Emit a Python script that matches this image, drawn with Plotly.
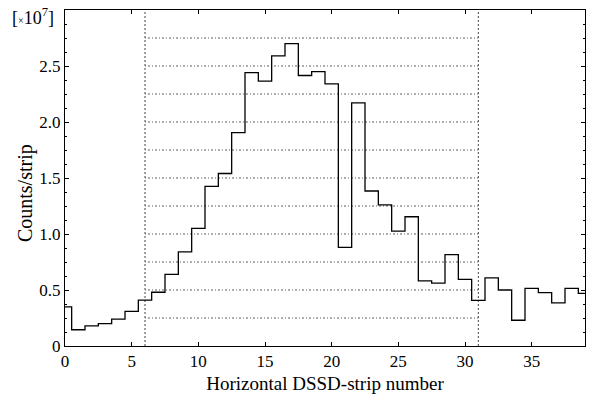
import plotly.graph_objects as go

strips = list(range(40))
counts = [0.35, 0.145, 0.18, 0.20, 0.24, 0.31, 0.41, 0.48, 0.64, 0.84,
          1.05, 1.425, 1.54, 1.905, 2.44, 2.365, 2.59, 2.70, 2.415, 2.45,
          2.34, 0.88, 2.17, 1.384, 1.26, 1.025, 1.154, 0.582, 0.562, 0.816,
          0.594, 0.407, 0.608, 0.50, 0.23, 0.515, 0.477, 0.385, 0.515, 0.47]
guide_levels = [0.25, 0.5, 0.75, 1.0, 1.25, 1.5, 1.75, 2.0, 2.25, 2.5, 2.75]
region_edges = [6, 31]
x_ticks = [0, 5, 10, 15, 20, 25, 30, 35]
y_ticks = [0, 0.5, 1.0, 1.5, 2.0, 2.5]
y_ticktext = ["0", "0.5", "1.0", "1.5", "2.0", "2.5"]

FONT = "Liberation Serif"

fig = go.Figure()

# horizontal dotted guides between region edges
gx, gy = [], []
for lv in guide_levels:
    gx += [region_edges[0], region_edges[1], None]
    gy += [lv, lv, None]
fig.add_trace(go.Scatter(x=gx, y=gy, mode="lines",
                         line=dict(color="#333", width=0.8, dash="1px,2px,2px,2px"),
                         hoverinfo="skip", showlegend=False))
# vertical dashed region edges
vx, vy = [], []
for e in region_edges:
    vx += [e, e, None]
    vy += [0, 3, None]
fig.add_trace(go.Scatter(x=vx, y=vy, mode="lines",
                         line=dict(color="#444", width=1, dash="2px,2px"),
                         hoverinfo="skip", showlegend=False))

fig.add_trace(go.Scatter(x=strips, y=counts, mode="lines", line_shape="hvh",
                         line=dict(color="black", width=1.3), showlegend=False))

axis_common = dict(showgrid=False, zeroline=False, showline=True, linecolor="black",
                   linewidth=1, mirror="allticks", ticks="inside", ticklen=4,
                   tickcolor="black", tickwidth=1,
                   tickfont=dict(family=FONT, size=17, color="black"))

fig.update_xaxes(range=[0, 39], tickvals=x_ticks, ticktext=[str(v) for v in x_ticks],
                 title=dict(text="Horizontal DSSD-strip number",
                            font=dict(family=FONT, size=19, color="black"), standoff=6),
                 **axis_common)
fig.update_yaxes(range=[0, 3], tickvals=y_ticks, ticktext=y_ticktext,
                 minor=dict(dtick=0.125, ticks="inside", ticklen=2, tickcolor="black"),
                 **axis_common)

fig.add_annotation(text="Counts/strip", textangle=-90, xref="paper", yref="paper",
                   x=-0.077, y=0.455, xanchor="center", yanchor="middle", showarrow=False,
                   font=dict(family=FONT, size=20, color="black"))
fig.add_annotation(text="[<span style='font-size:10px'>×</span>10<sup>7</sup>]",
                   xref="paper", yref="paper", x=-0.018, y=0.982, xanchor="right",
                   yanchor="middle", showarrow=False,
                   font=dict(family=FONT, size=18, color="black"))

fig.update_layout(width=593, height=398, margin=dict(l=65, r=7, t=10, b=46),
                  plot_bgcolor="white", paper_bgcolor="white")

fig.write_html("out.html")
